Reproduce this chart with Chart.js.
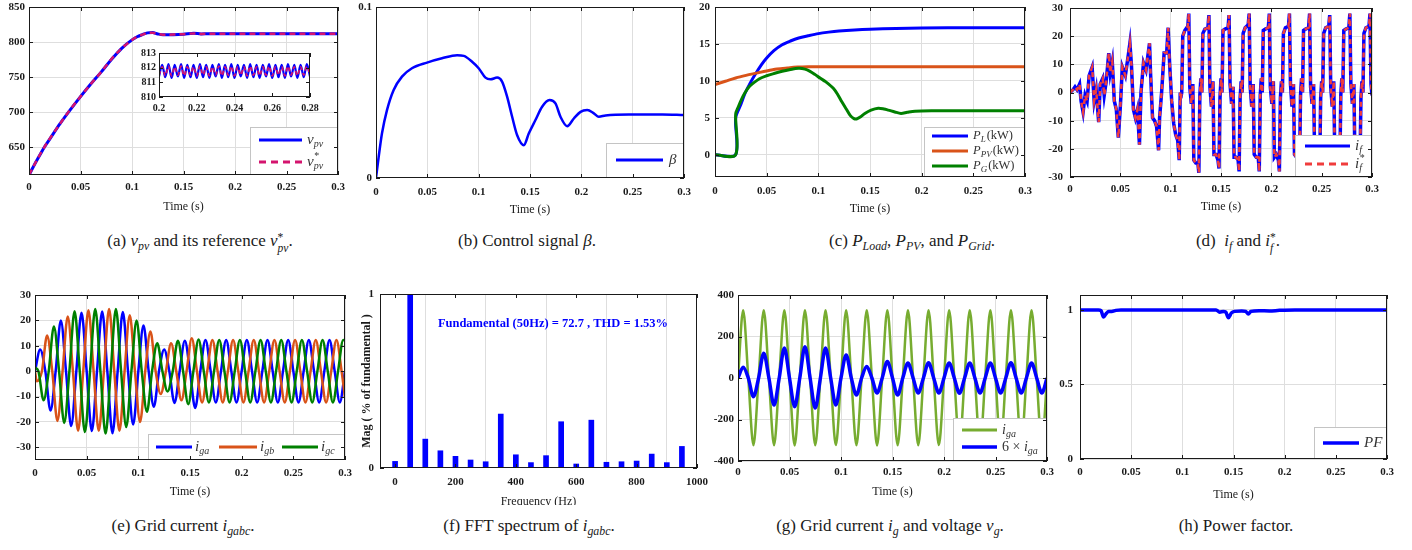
<!DOCTYPE html>
<html>
<head>
<meta charset="utf-8">
<script src="https://cdn.jsdelivr.net/npm/chart.js@4.4.1/dist/chart.umd.min.js"></script>
<style>
  body { margin: 0; background: #fff; }
  #fig { position: relative; width: 1412px; height: 550px; overflow: hidden; font-family: "Liberation Serif", serif; }
  #fig canvas { position: absolute; }
  .cap { position: absolute; font-size: 17px; line-height: 20px; white-space: nowrap; transform: translateX(-50%); color: #1a1a1a; }
  .cap i { font-style: italic; }
  .cap sub { font-size: 0.7em; font-style: italic; vertical-align: -0.3em; line-height: 0; }
  .ss { display: inline-block; vertical-align: middle; font-size: 0.68em; line-height: 1; position: relative; top: 0.05em; }
  .ss b { display: block; font-weight: normal; }
  .ss b + b { font-style: italic; }
</style>
</head>
<body>
<div id="fig">
  <div class="cap" style="left:200px;top:231px">(a) <i>v</i><sub>pv</sub> and its reference <i>v</i><span class="ss"><b>*</b><b>pv</b></span>.</div>
  <div class="cap" style="left:527px;top:231px">(b) Control signal <i>β</i>.</div>
  <div class="cap" style="left:912px;top:231px">(c) <i>P</i><sub>Load</sub>, <i>P</i><sub>PV</sub>, and <i>P</i><sub>Grid</sub>.</div>
  <div class="cap" style="left:1238px;top:231px">(d) &nbsp;<i>i</i><sub>f</sub> and <i>i</i><span class="ss"><b>*</b><b>f</b></span>.</div>
  <div class="cap" style="left:183px;top:516px">(e) Grid current <i>i</i><sub>gabc</sub>.</div>
  <div class="cap" style="left:529px;top:516px">(f) FFT spectrum of <i>i</i><sub>gabc</sub>.</div>
  <div class="cap" style="left:890px;top:516px">(g) Grid current <i>i</i><sub>g</sub> and voltage <i>v</i><sub>g</sub>.</div>
  <div class="cap" style="left:1236px;top:516px">(h) Power factor.</div>
</div>
<script>
// ---- data ----
const timeTicks = [0, 0.05, 0.1, 0.15, 0.2, 0.25, 0.3];

// (a) PV voltage and reference, [t, V]
const vpvPts = [[0,610],[0.005,624],[0.01,637],[0.015,650],[0.02,661],[0.03,683],[0.04,703],[0.05,722],[0.06,740],[0.07,757],[0.08,775],[0.09,791],[0.1,803],[0.105,807.5],[0.11,810.5],[0.115,813],[0.12,813.5],[0.125,811.5],[0.13,810.3],[0.14,810.5],[0.15,811.2],[0.16,812.5],[0.167,811.6],[0.175,811.7],[0.2,811.7],[0.25,811.7],[0.3,811.7]];
const vpvRefPts = [[0,610],[0.005,624],[0.01,637.5],[0.015,650],[0.02,661.5],[0.03,683],[0.04,703.5],[0.05,722],[0.06,740],[0.07,757],[0.08,775.5],[0.09,791],[0.1,803],[0.105,807.5],[0.11,810.5],[0.115,812.8],[0.12,813.2],[0.125,811.5],[0.13,810.5],[0.14,810.6],[0.15,811.2],[0.16,812.3],[0.167,811.6],[0.175,811.7],[0.2,811.7],[0.25,811.7],[0.3,811.7]];
const vpvTicks = [650, 700, 750, 800, 850];
// (a) inset, 0.2 - 0.28 s
const tInset = [0.2,0.2017,0.2033,0.205,0.2067,0.2083,0.21,0.2117,0.2133,0.215,0.2167,0.2183,0.22,0.2217,0.2233,0.225,0.2267,0.2283,0.23,0.2317,0.2333,0.235,0.2367,0.2383,0.24,0.2417,0.2433,0.245,0.2467,0.2483,0.25,0.2517,0.2533,0.255,0.2567,0.2583,0.26,0.2617,0.2633,0.265,0.2667,0.2683,0.27,0.2717,0.2733,0.275,0.2767,0.2783,0.28];
const vpvInset = [811.4,812.2,811.35,812.25,811.3,812.2,811.4,812.25,811.3,812.2,811.35,812.2,811.3,812.25,811.35,812.2,811.3,812.2,811.4,812.25,811.3,812.2,811.35,812.25,811.3,812.2,811.4,812.2,811.3,812.25,811.35,812.2,811.3,812.2,811.4,812.25,811.3,812.2,811.35,812.2,811.3,812.25,811.4,812.2,811.3,812.2,811.35,812.25,811.4];
const vpvRefInset = [811.5,812.05,811.45,812.1,811.45,812.05,811.5,812.1,811.45,812.05,811.5,812.05,811.45,812.1,811.5,812.05,811.45,812.05,811.5,812.1,811.45,812.05,811.5,812.1,811.45,812.05,811.5,812.05,811.45,812.1,811.5,812.05,811.45,812.05,811.5,812.1,811.45,812.05,811.5,812.05,811.45,812.1,811.5,812.05,811.45,812.05,811.5,812.1,811.5];
const insetXTicks = [0.2, 0.22, 0.24, 0.26, 0.28];
const insetYTicks = [810, 811, 812, 813];

// (b) control signal beta
const betaPts = [[0,0],[0.0026,0.0123],[0.0058,0.026],[0.0107,0.0397],[0.0172,0.0515],[0.0253,0.0593],[0.035,0.0642],[0.0497,0.0675],[0.0643,0.07],[0.079,0.0718],[0.0855,0.0714],[0.0936,0.068],[0.1,0.0642],[0.1066,0.0587],[0.1115,0.0577],[0.118,0.0587],[0.1228,0.0564],[0.1277,0.0476],[0.1326,0.0358],[0.1375,0.025],[0.144,0.0192],[0.1488,0.026],[0.1553,0.0339],[0.1618,0.0417],[0.169,0.0456],[0.1748,0.0436],[0.1797,0.0358],[0.1862,0.0303],[0.1927,0.0348],[0.1992,0.0387],[0.2057,0.0397],[0.2122,0.0378],[0.217,0.0358],[0.2236,0.0366],[0.2463,0.0372],[0.279,0.0372],[0.3,0.0368]];
const betaTicks = [0, 0.1];

// (c) powers in kW
const pLoadPts = [[0,0],[0.0199,0],[0.02,5],[0.025,6.8],[0.029,8.3],[0.034,9.7],[0.039,10.9],[0.045,12.2],[0.05,13.1],[0.057,14.1],[0.065,14.9],[0.073,15.4],[0.081,15.8],[0.09,16.1],[0.1,16.4],[0.11,16.6],[0.12,16.75],[0.135,16.9],[0.15,17],[0.175,17.1],[0.2,17.15],[0.25,17.2],[0.3,17.2]];
const pPvPts = [[0,9.5],[0.01,9.95],[0.02,10.4],[0.03,10.75],[0.04,11.05],[0.05,11.35],[0.06,11.6],[0.07,11.75],[0.08,11.87],[0.09,11.92],[0.1,11.93],[0.2,11.93],[0.3,11.93]];
const pGridPts = [[0,0],[0.0199,0],[0.02,5.5],[0.0226,6.5],[0.026,7.6],[0.029,8.4],[0.033,9.2],[0.037,9.7],[0.043,10.3],[0.05,10.7],[0.057,11],[0.065,11.3],[0.073,11.55],[0.081,11.7],[0.087,11.6],[0.092,11.3],[0.097,10.85],[0.102,10.35],[0.107,9.9],[0.1145,9],[0.119,8.1],[0.1226,7.2],[0.127,6.2],[0.131,5.3],[0.1345,4.9],[0.137,4.85],[0.141,5.15],[0.145,5.6],[0.151,6.05],[0.158,6.3],[0.1635,6.2],[0.1677,6.05],[0.174,5.8],[0.18,5.6],[0.186,5.75],[0.1935,5.9],[0.21,5.95],[0.25,5.95],[0.3,5.95]];
const powerTicks = [0, 5, 10, 15, 20];

// (d) filter current i_f (the reference i_f* lies on top of it)
const ifPts = [[0,0],[0.003,1],[0.005,2],[0.007,1],[0.0095,3],[0.011,-3],[0.013,-7],[0.015,-1],[0.017,-3],[0.019,6],[0.022,9],[0.024,-3],[0.026,1],[0.0285,-10.5],[0.03,3],[0.0325,5],[0.034,-1],[0.036,4],[0.0385,14],[0.04,7],[0.042,11],[0.044,-3],[0.046,-6],[0.048,-16],[0.05,-5],[0.052,9],[0.055,6],[0.058,13.5],[0.0595,17.5],[0.061,10],[0.063,-6],[0.065,-9],[0.067,-6],[0.069,-18.5],[0.0705,0],[0.073,10.5],[0.0755,8],[0.079,17.5],[0.08,7],[0.082,-9],[0.084,-10],[0.086,-12],[0.088,-20.5],[0.089,-9],[0.091,0],[0.0935,14],[0.096,14],[0.0975,23],[0.099,10],[0.101,-3],[0.103,-11],[0.105,-15],[0.107,-17],[0.1085,-24],[0.1095,0],[0.11,-2],
  [0.111,0],[0.112,20],[0.114,22],[0.117,23.5],[0.118,28],[0.119,2],[0.1205,-4],[0.122,3],[0.123,-24],[0.125,-25],[0.127,-25],[0.128,-28.5],[0.129,-1],[0.13,5],
  [0.131,0],[0.132,21],[0.134,22.5],[0.137,23],[0.138,27.5],[0.139,2],[0.1405,-5],[0.142,4],[0.143,-22],[0.145,-22],[0.147,-24],[0.148,-27],[0.149,-2],[0.15,5],
  [0.151,0],[0.152,22],[0.154,22.5],[0.157,23],[0.158,27.5],[0.159,3],[0.1605,-4],[0.162,2],[0.163,-23],[0.165,-23],[0.167,-24],[0.168,-28],[0.169,-2],[0.17,4],
  [0.171,0],[0.172,21],[0.174,23],[0.177,24],[0.178,28],[0.179,2],[0.1805,-5],[0.182,3],[0.183,-22],[0.185,-23],[0.187,-23],[0.188,-28],[0.189,-1],[0.19,5],
  [0.191,0],[0.192,22],[0.194,22.5],[0.197,23],[0.198,28],[0.199,2],[0.2005,-4],[0.202,4],[0.203,-23],[0.205,-22],[0.207,-24],[0.208,-28],[0.209,-2],[0.21,4],
  [0.211,0],[0.212,21],[0.214,23],[0.217,23.5],[0.218,28],[0.219,3],[0.2205,-5],[0.222,3],[0.223,-22],[0.225,-23],[0.227,-23],[0.228,-27.5],[0.229,-1],[0.23,5],
  [0.231,0],[0.232,22],[0.234,22.5],[0.237,23],[0.238,28],[0.239,2],[0.2405,-4],[0.242,3],[0.243,-23],[0.245,-22],[0.247,-24],[0.248,-28],[0.249,-2],[0.25,4],
  [0.251,0],[0.252,21],[0.254,23],[0.257,23.5],[0.258,27.5],[0.259,2],[0.2605,-5],[0.262,4],[0.263,-22],[0.265,-23],[0.267,-23],[0.268,-28],[0.269,-1],[0.27,5],
  [0.271,0],[0.272,22],[0.274,22.5],[0.277,23],[0.278,28],[0.279,3],[0.2805,-4],[0.282,3],[0.283,-23],[0.285,-22],[0.287,-24],[0.288,-28],[0.289,-2],[0.29,4],
  [0.291,0],[0.292,21],[0.294,23],[0.297,23.5],[0.298,28],[0.299,3],[0.3,-1]];
const ifTicks = [-30, -20, -10, 0, 10, 20, 30];

// (e) grid currents; samples at zero crossings and peaks
const tQ = [0,0.005,0.01,0.015,0.02,0.025,0.03,0.035,0.04,0.045,0.05,0.055,0.06,0.065,0.07,0.075,0.08,0.085,0.09,0.095,0.1,0.105,0.11,0.115,0.12,0.125,0.13,0.135,0.14,0.145,0.15,0.155,0.16,0.165,0.17,0.175,0.18,0.185,0.19,0.195,0.2,0.205,0.21,0.215,0.22,0.225,0.23,0.235,0.24,0.245,0.25,0.255,0.26,0.265,0.27,0.275,0.28,0.285,0.29,0.295,0.3];
const iga = [0,8.5,0,-15.5,0,20,0,-21.6,0,23,0,-23.6,0,23.5,0,-24.5,0,23.3,0,-21,0,18,0,-14,0,8.5,0,-12.5,0,12,0,-14.5,0,12.3,0,-12.3,0,12.3,0,-12.3,0,12.3,0,-12.3,0,12.3,0,-12.3,0,12.3,0,-12.3,0,12.3,0,-12.3,0,12.3,0,-12.3,0];
const tB = [0,0.0017,0.0067,0.0117,0.0167,0.0217,0.0267,0.0317,0.0367,0.0417,0.0467,0.0517,0.0567,0.0617,0.0667,0.0717,0.0767,0.0817,0.0867,0.0917,0.0967,0.1017,0.1067,0.1117,0.1167,0.1217,0.1267,0.1317,0.1367,0.1417,0.1467,0.1517,0.1567,0.1617,0.1667,0.1717,0.1767,0.1817,0.1867,0.1917,0.1967,0.2017,0.2067,0.2117,0.2167,0.2217,0.2267,0.2317,0.2367,0.2417,0.2467,0.2517,0.2567,0.2617,0.2667,0.2717,0.2767,0.2817,0.2867,0.2917,0.2967,0.3];
const igb = [0,-4,0,14,0,-19.6,0,21.5,0,-23.5,0,24,0,-23.5,0,24.5,0,-23.5,0,22,0,-20,0,15.6,0,-9,0,11,0,-11.5,0,13,0,-12.3,0,12.3,0,-12.3,0,12.3,0,-12.3,0,12.3,0,-12.3,0,12.3,0,-12.3,0,12.3,0,-12.3,0,12.3,0,-12.3,0,12.3,0,-10.5];
const tC = [0,0.0033,0.0083,0.0133,0.0183,0.0233,0.0283,0.0333,0.0383,0.0433,0.0483,0.0533,0.0583,0.0633,0.0683,0.0733,0.0783,0.0833,0.0883,0.0933,0.0983,0.1033,0.1083,0.1133,0.1183,0.1233,0.1283,0.1333,0.1383,0.1433,0.1483,0.1533,0.1583,0.1633,0.1683,0.1733,0.1783,0.1833,0.1883,0.1933,0.1983,0.2033,0.2083,0.2133,0.2183,0.2233,0.2283,0.2333,0.2383,0.2433,0.2483,0.2533,0.2583,0.2633,0.2683,0.2733,0.2783,0.2833,0.2883,0.2933,0.2983,0.3];
const igc = [1.5,0,-11.5,0,17.6,0,-20.4,0,23.6,0,-24,0,24.5,0,-24.6,0,24.5,0,-22,0,20,0,-16,0,11,0,-8,0,12,0,-13,0,12.5,0,-12.3,0,12.3,0,-12.3,0,12.3,0,-12.3,0,12.3,0,-12.3,0,12.3,0,-12.3,0,12.3,0,-12.3,0,12.3,0,-12.3,0,12.3,12];
const currentTicks = [-30, -20, -10, 0, 10, 20, 30];

// (f) FFT spectrum
const fftHz = [0,50,100,150,200,250,300,350,400,450,500,550,600,650,700,750,800,850,900,950];
const fftMag = [0.038,1,0.166,0.099,0.067,0.046,0.036,0.31,0.076,0.031,0.071,0.266,0.023,0.275,0.033,0.036,0.04,0.08,0.031,0.124];
const fftXTicks = [0, 200, 400, 600, 800, 1000];
const fftYTicks = [0, 1];

// (g) grid voltage and 6 x i_ga on tQ
const vga = [0,326,0,-324,0,327,0,-324,0,326,0,-325,0,327,0,-324,0,326,0,-323,0,327,0,-324,0,326,0,-325,0,327,0,-324,0,326,0,-324,0,327,0,-323,0,326,0,-325,0,327,0,-324,0,326,0,-324,0,327,0,-323,0,326,0,-325,0];
const iga6 = [0,52,0,-90,0,119,0,-130,0,144,0,-138,0,151,0,-145,0,144,0,-130,0,111,0,-82,0,55,0,-72,0,79,0,-82,0,72,0,-72,0,73,0,-72,0,72,0,-73,0,72,0,-72,0,72,0,-72,0,73,0,-72,0,72,0,-72,0];
const gridTicks = [-400, -200, 0, 200, 400];

// (h) power factor
const pfPts = [[0,1],[0.018,1],[0.0205,0.995],[0.023,0.952],[0.0255,0.975],[0.028,0.99],[0.031,0.99],[0.035,0.997],[0.04,1],[0.133,1],[0.1365,0.985],[0.14,0.99],[0.1425,0.985],[0.145,0.948],[0.148,0.98],[0.151,0.99],[0.158,0.993],[0.162,0.99],[0.1645,0.973],[0.167,0.99],[0.175,0.995],[0.185,0.993],[0.195,0.997],[0.21,1],[0.3,1]];
const pfTicks = [0, 0.5, 1];

// ---- styling ----
const SERIF = '"Liberation Serif", "Times New Roman", serif';
const GRID = '#dedede';
const INK = '#1a1a1a';
const BLUE = '#0000ff';
const ORANGE = '#d95319';
const GREEN = '#008000';
const tickFont = { family: SERIF, size: 11, weight: 'bold' };
const titleFont = { family: SERIF, size: 12 };

const pairs = pts => pts.map(p => ({ x: p[0], y: p[1] }));
const zipXY = (xs, ys) => xs.map((x, i) => ({ x, y: ys[i] }));
const fmt = v => String(Math.round(v * 10000) / 10000);

function axis(o) {
  return {
    type: 'linear', min: o.min, max: o.max,
    afterBuildTicks: ax => { ax.ticks = o.ticks.map(v => ({ value: v })); },
    grid: { display: o.grid !== false, color: GRID, drawTicks: false, lineWidth: 1 },
    border: { display: false },
    ticks: { font: o.font || tickFont, color: INK, padding: o.pad, maxRotation: 0, autoSkip: false, callback: fmt },
    title: { display: !!o.title, text: o.title, font: o.titleFont || titleFont, color: INK, padding: 0 }
  };
}

function line(data, color, width, extra) {
  return Object.assign({ data, borderColor: color, borderWidth: width, pointRadius: 0,
    cubicInterpolationMode: 'monotone', fill: false }, extra || {});
}

function drawMath(ctx, parts, x, y, size) {
  let cx = x;
  ctx.textBaseline = 'middle';
  ctx.textAlign = 'left';
  parts.forEach(p => {
    if (typeof p === 'string') {
      ctx.font = `italic ${size}px ${SERIF}`;
      ctx.fillText(p, cx, y);
      cx += ctx.measureText(p).width;
    } else if (p.n) {
      ctx.font = `${size}px ${SERIF}`;
      ctx.fillText(p.n, cx, y);
      cx += ctx.measureText(p.n).width;
    } else {
      const s = Math.round(size * 0.68);
      let w = 0;
      if (p.sup) {
        ctx.font = `${s}px ${SERIF}`;
        ctx.fillText(p.sup, cx + 0.5, y - size * 0.36);
        w = ctx.measureText(p.sup).width;
      }
      if (p.sub) {
        ctx.font = `italic ${s}px ${SERIF}`;
        ctx.fillText(p.sub, cx, y + size * 0.28);
        w = Math.max(w, ctx.measureText(p.sub).width);
      }
      cx += w + 1;
    }
  });
}

function rows(x1, x2, lx, ys, specs) {
  return specs.map((s, i) => Object.assign({ x1, x2, lx, y: ys[i] }, s));
}

function makeDecor(d) {
  return {
    id: 'decor',
    beforeDraw(chart) {
      if (!d.whiteArea) return;
      const a = chart.chartArea, ctx = chart.ctx;
      ctx.save();
      ctx.fillStyle = '#fff';
      ctx.fillRect(a.left, a.top, a.right - a.left, a.bottom - a.top);
      ctx.restore();
    },
    afterDraw(chart) {
      const ctx = chart.ctx, a = chart.chartArea;
      const [ox, oy] = d.origin;
      ctx.save();
      if (d.note) {
        const n = d.note;
        ctx.font = n.font;
        ctx.fillStyle = n.color;
        ctx.textAlign = 'center';
        ctx.textBaseline = 'middle';
        ctx.fillText(n.text, chart.scales.x.getPixelForValue(n.x), chart.scales.y.getPixelForValue(n.y));
      }
      if (d.legend) {
        const L = d.legend, [x0, y0, x1, y1] = L.box;
        ctx.fillStyle = '#fff';
        ctx.fillRect(x0 - ox, y0 - oy, x1 - x0, y1 - y0);
        ctx.strokeStyle = '#c4c4c4';
        ctx.lineWidth = 1;
        ctx.strokeRect(x0 - ox + 0.5, y0 - oy + 0.5, x1 - x0 - 1, y1 - y0 - 1);
        L.items.forEach(it => {
          ctx.beginPath();
          ctx.setLineDash(it.dash || []);
          ctx.strokeStyle = it.color;
          ctx.lineWidth = it.width || 3;
          ctx.moveTo(it.x1 - ox, it.y - oy);
          ctx.lineTo(it.x2 - ox, it.y - oy);
          ctx.stroke();
          ctx.setLineDash([]);
          ctx.fillStyle = '#333';
          drawMath(ctx, it.label, it.lx - ox, it.y - oy, L.size);
        });
      }
      // axes box with inward ticks
      ctx.strokeStyle = INK;
      ctx.lineWidth = 1;
      ctx.strokeRect(a.left + 0.5, a.top + 0.5, a.right - a.left - 1, a.bottom - a.top - 1);
      const tl = 4;
      ctx.beginPath();
      chart.scales.x.ticks.forEach(t => {
        const px = Math.round(chart.scales.x.getPixelForValue(t.value)) + 0.5;
        ctx.moveTo(px, a.bottom); ctx.lineTo(px, a.bottom - tl);
        ctx.moveTo(px, a.top); ctx.lineTo(px, a.top + tl);
      });
      chart.scales.y.ticks.forEach(t => {
        const py = Math.round(chart.scales.y.getPixelForValue(t.value)) + 0.5;
        ctx.moveTo(a.left, py); ctx.lineTo(a.left + tl, py);
        ctx.moveTo(a.right, py); ctx.lineTo(a.right - tl, py);
      });
      ctx.stroke();
      ctx.restore();
    }
  };
}

function makePanel(r, m, datasets, scales, decor, type) {
  const cv = document.createElement('canvas');
  cv.width = r.R - r.L + m.l + m.r;
  cv.height = r.B - r.T + m.t + m.b;
  cv.style.left = (r.L - m.l) + 'px';
  cv.style.top = (r.T - m.t) + 'px';
  document.getElementById('fig').appendChild(cv);
  scales.x.afterFit = s => { s.height = m.b; s.paddingLeft = 0; s.paddingRight = 0; };
  scales.y.afterFit = s => { s.width = m.l; s.paddingTop = 0; s.paddingBottom = 0; };
  decor.origin = [r.L - m.l, r.T - m.t];
  return new Chart(cv, {
    type: type || 'line',
    data: { datasets },
    options: {
      responsive: false,
      animation: false,
      devicePixelRatio: 1,
      layout: { padding: { top: m.t, right: m.r, left: 0, bottom: 0 }, autoPadding: false },
      plugins: { legend: { display: false }, tooltip: { enabled: false } },
      scales
    },
    plugins: [makeDecor(decor)]
  });
}

// (a)
makePanel({ L: 29, T: 7, R: 338, B: 175 }, { l: 29, t: 7, r: 10, b: 39 },
  [line(pairs(vpvPts), BLUE, 3, { order: 1 }),
   line(pairs(vpvRefPts), '#d4146e', 2.5, { borderDash: [6, 4], order: 0 })],
  { x: axis({ min: 0, max: 0.3, ticks: timeTicks, pad: 6, title: 'Time (s)' }),
    y: axis({ min: 610, max: 850, ticks: vpvTicks, pad: 4 }) },
  { legend: { box: [250, 127, 338, 175], size: 15, items: rows(259, 302, 307, [140, 162], [
      { color: BLUE, width: 3, label: ['v', { sub: 'pv' }] },
      { color: '#d4146e', width: 3, dash: [7, 5], label: ['v', { sup: '*', sub: 'pv' }] }]) } });

// (a) inset
makePanel({ L: 159, T: 53, R: 310, B: 97 }, { l: 22, t: 6, r: 10, b: 18 },
  [line(zipXY(tInset, vpvInset), BLUE, 2.2, { order: 1 }),
   line(zipXY(tInset, vpvRefInset), '#d4146e', 1.8, { borderDash: [4, 3], order: 0 })],
  { x: axis({ min: 0.2, max: 0.28, ticks: insetXTicks, pad: 5, grid: false, font: { family: SERIF, size: 10, weight: 'bold' } }),
    y: axis({ min: 810, max: 813, ticks: insetYTicks, pad: 3, grid: false, font: { family: SERIF, size: 10, weight: 'bold' } }) },
  { whiteArea: true });

// (b)
makePanel({ L: 376, T: 7, R: 684, B: 178 }, { l: 24, t: 7, r: 10, b: 39 },
  [line(pairs(betaPts), BLUE, 2.5)],
  { x: axis({ min: 0, max: 0.3, ticks: timeTicks, pad: 8, title: 'Time (s)' }),
    y: axis({ min: 0, max: 0.1, ticks: betaTicks, pad: 4, grid: false }) },
  { legend: { box: [606, 143, 684, 178], size: 15, items: rows(616, 663, 669, [160], [
      { color: BLUE, width: 3, label: ['β'] }]) } });

// (c)
makePanel({ L: 715, T: 7, R: 1025, B: 177 }, { l: 28, t: 7, r: 10, b: 39 },
  [line(pairs(pLoadPts), BLUE, 3, { order: 2, cubicInterpolationMode: 'default', tension: 0.3 }),
   line(pairs(pPvPts), ORANGE, 3, { order: 1 }),
   line(pairs(pGridPts), GREEN, 3, { order: 0, cubicInterpolationMode: 'default', tension: 0.3 })],
  { x: axis({ min: 0, max: 0.3, ticks: timeTicks, pad: 8, title: 'Time (s)' }),
    y: axis({ min: -3, max: 20, ticks: powerTicks, pad: 5 }) },
  { legend: { box: [924, 127, 1025, 177], size: 12.5, items: rows(932, 968, 973, [136, 151, 166], [
      { color: BLUE, label: ['P', { sub: 'L' }, { n: '(kW)' }] },
      { color: ORANGE, label: ['P', { sub: 'PV' }, { n: '(kW)' }] },
      { color: GREEN, label: ['P', { sub: 'G' }, { n: '(kW)' }] }]) } });

// (d)
makePanel({ L: 1070, T: 8, R: 1372, B: 177 }, { l: 30, t: 8, r: 12, b: 37 },
  [line(pairs(ifPts), BLUE, 3.5, { order: 1, cubicInterpolationMode: 'default', tension: 0 }),
   line(pairs(ifPts), '#f03c3c', 2.5, { order: 0, borderDash: [5, 4], cubicInterpolationMode: 'default', tension: 0 })],
  { x: axis({ min: 0, max: 0.3, ticks: timeTicks, pad: 6, title: 'Time (s)' }),
    y: axis({ min: -30, max: 30, ticks: ifTicks, pad: 7 }) },
  { legend: { box: [1295, 135, 1372, 177], size: 15, items: rows(1305, 1350, 1355, [146, 164], [
      { color: BLUE, width: 3, label: ['i', { sub: 'f' }] },
      { color: '#f03c3c', width: 3, dash: [7, 5], label: ['i', { sup: '*', sub: 'f' }] }]) } });

// (e)
makePanel({ L: 35, T: 295, R: 345, B: 460 }, { l: 35, t: 8, r: 10, b: 39 },
  [line(zipXY(tQ, iga), BLUE, 2.5, { order: 2 }),
   line(zipXY(tB, igb), ORANGE, 2.5, { order: 1 }),
   line(zipXY(tC, igc), GREEN, 2.5, { order: 0 })],
  { x: axis({ min: 0, max: 0.3, ticks: timeTicks, pad: 7, title: 'Time (s)' }),
    y: axis({ min: -35, max: 30, ticks: currentTicks, pad: 4 }) },
  { legend: { box: [148, 434, 345, 460], size: 15, items: [
      { x1: 156, x2: 192, lx: 195, y: 447, color: BLUE, label: ['i', { sub: 'ga' }] },
      { x1: 219, x2: 257, lx: 260, y: 447, color: ORANGE, label: ['i', { sub: 'gb' }] },
      { x1: 282, x2: 318, lx: 321, y: 447, color: GREEN, label: ['i', { sub: 'gc' }] }] } });

// (f)
makePanel({ L: 380, T: 294, R: 697, B: 468 }, { l: 20, t: 8, r: 14, b: 37 },
  [{ data: zipXY(fftHz, fftMag), backgroundColor: BLUE, barThickness: 5, grouped: false }],
  { x: Object.assign(axis({ min: -50, max: 1000, ticks: fftXTicks, pad: 8, title: 'Frequency (Hz)',
        titleFont: { family: SERIF, size: 12, lineHeight: 0.5 } }), { offset: false }),
    y: axis({ min: 0, max: 1, ticks: fftYTicks, pad: 6, grid: false, title: 'Mag ( % of fundamental )',
        titleFont: { family: SERIF, size: 12, weight: 'bold' } }) },
  { note: { text: 'Fundamental (50Hz) = 72.7 , THD = 1.53%', x: 523, y: 0.83, color: BLUE,
      font: `bold 12.5px ${SERIF}` } }, 'bar');

// (g)
makePanel({ L: 738, T: 295, R: 1047, B: 461 }, { l: 32, t: 8, r: 10, b: 38 },
  [line(zipXY(tQ, vga), '#77ac30', 2.5, { order: 1 }),
   line(zipXY(tQ, iga6), BLUE, 3.5, { order: 0 })],
  { x: axis({ min: 0, max: 0.3, ticks: timeTicks, pad: 5, title: 'Time (s)' }),
    y: axis({ min: -400, max: 400, ticks: gridTicks, pad: 4 }) },
  { legend: { box: [953, 418, 1047, 461], size: 14, items: rows(962, 997, 1002, [430, 447], [
      { color: '#77ac30', label: ['i', { sub: 'ga' }] },
      { color: BLUE, width: 3.5, label: [{ n: '6 × ' }, 'i', { sub: 'ga' }] }]) } });

// (h)
makePanel({ L: 1080, T: 295, R: 1387, B: 459 }, { l: 30, t: 8, r: 12, b: 43 },
  [line(pairs(pfPts), BLUE, 3.5)],
  { x: axis({ min: 0, max: 0.3, ticks: timeTicks, pad: 7, title: 'Time (s)' }),
    y: axis({ min: 0, max: 1.1, ticks: pfTicks, pad: 7 }) },
  { legend: { box: [1314, 427, 1387, 459], size: 15, items: rows(1323, 1359, 1364, [443], [
      { color: BLUE, width: 3.5, label: ['PF'] }]) } });
</script>
</body>
</html>
